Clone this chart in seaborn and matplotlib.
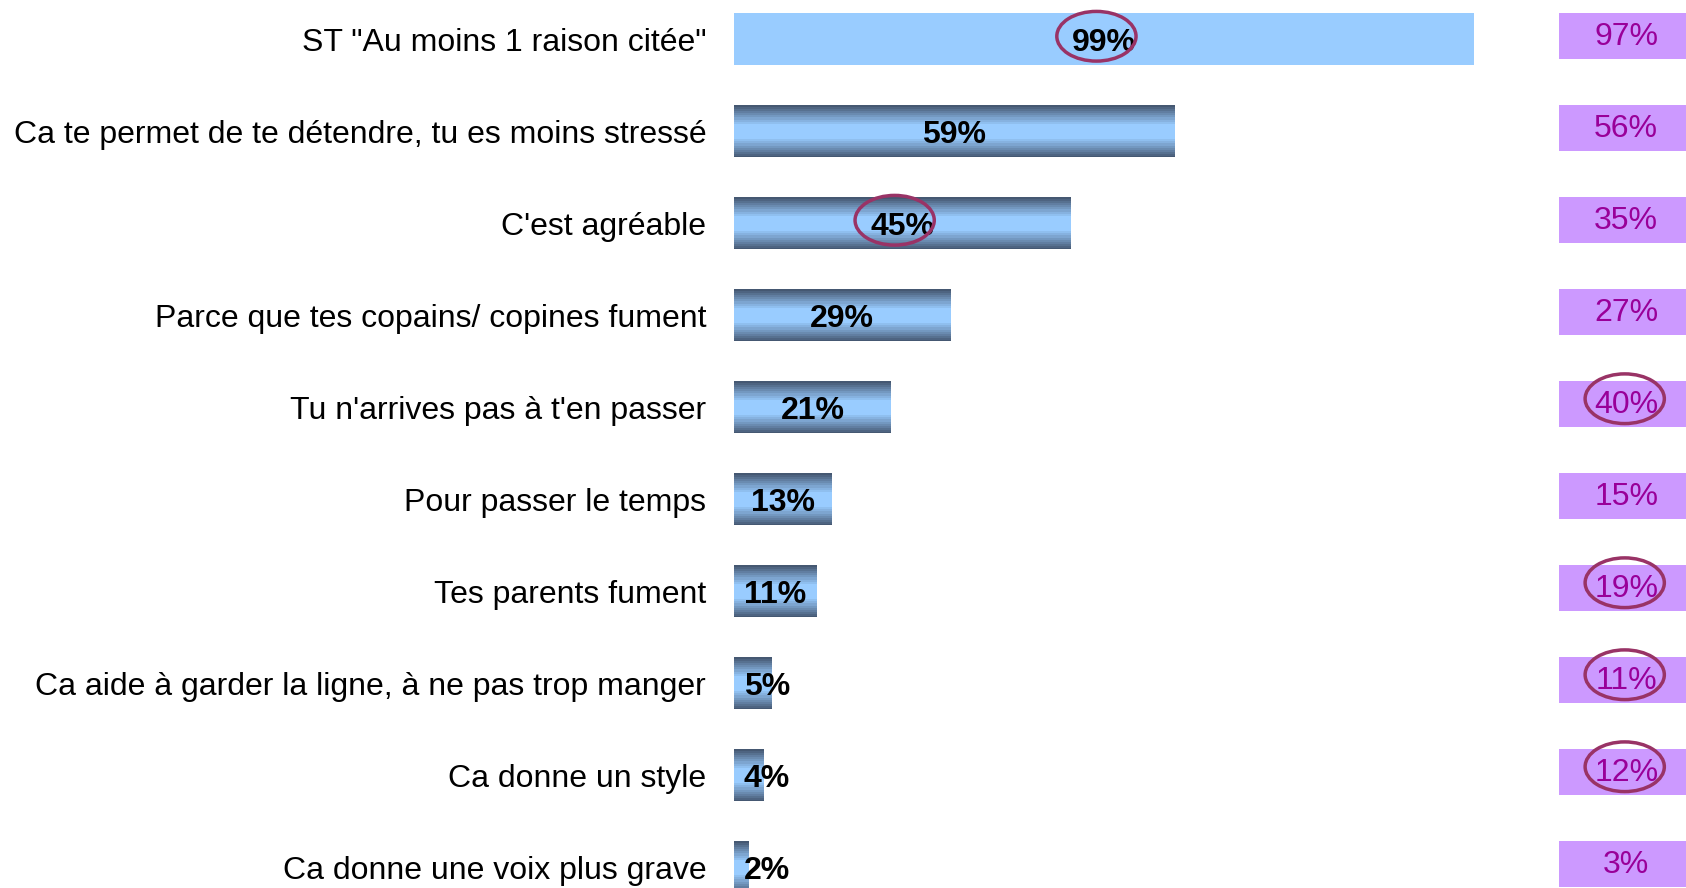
import numpy as np
import pandas as pd
import matplotlib
matplotlib.use("Agg")
import matplotlib.pyplot as plt
from matplotlib.patches import Ellipse, Rectangle
from matplotlib.colors import LinearSegmentedColormap
import seaborn as sns

# Reasons for smoking, share of respondents (%)
categories = [
    'ST "Au moins 1 raison citée"',
    "Ca te permet de te détendre, tu es moins stressé",
    "C'est agréable",
    "Parce que tes copains/ copines fument",
    "Tu n'arrives pas à t'en passer",
    "Pour passer le temps",
    "Tes parents fument",
    "Ca aide à garder la ligne, à ne pas trop manger",
    "Ca donne un style",
    "Ca donne une voix plus grave",
]
values = [99, 59, 45, 29, 21, 13, 11, 5, 4, 2]
compare_values = [97, 56, 35, 27, 40, 15, 19, 11, 12, 3]
circled_values = [0, 2]
circled_compare = [4, 6, 7, 8]

sns.set_theme(style="white")
plt.rcParams["font.family"] = ["Liberation Sans", "DejaVu Sans"]

W, H = 1686, 888
FS = 23.0
fig = plt.figure(figsize=(W / 100, H / 100), dpi=100)
left_px = 734
ax = fig.add_axes([left_px / W, 0, 1 - left_px / W, 1])

df = pd.DataFrame({"raison": categories, "pct": values})
sns.barplot(data=df, x="pct", y="raison", ax=ax, width=0.565,
            color="#99CCFF", saturation=1, edgecolor="none", linewidth=0)

# banded steel-blue gradient for all bars but the total
t = np.linspace(0, 1, 200)
dist = np.abs(t - 0.51)
f = np.clip(1 - (dist - 0.13) / 0.37, 0, 1)
f = np.round(f * 9) / 9
grad = f[:, None]
cmap = LinearSegmentedColormap.from_list("steel", ["#455872", "#99CCFF"])
for p in ax.patches[1:]:
    x0, y0 = p.get_x(), p.get_y()
    w, h = p.get_width(), p.get_height()
    im = ax.imshow(grad, extent=[x0, x0 + w, y0 + h, y0], origin="upper",
                   aspect="auto", cmap=cmap, vmin=0, vmax=1,
                   interpolation="nearest", zorder=p.get_zorder() + 0.1)
    im.set_clip_path(p)

ring = "#993366"
# value labels on the bars
for i, v in enumerate(values):
    x = max(v / 2, 4.4)
    ax.text(x, i + 0.045, f"{v}%", ha="center", va="center", fontsize=FS,
            fontweight="bold", color="black", zorder=5)
    if i in circled_values:
        ax.add_patch(Ellipse((x - 1.0, i - 0.03), 10.6, 0.54, fill=False,
                             edgecolor=ring, linewidth=2.5, zorder=6))

# comparison column
cx = 119.4
for i, v in enumerate(compare_values):
    ax.add_patch(Rectangle((110.4, i - 0.28), 30, 0.5, facecolor="#CC99FF",
                           edgecolor="none", zorder=3))
    ax.text(cx, i - 0.02, f"{v}%", ha="center", va="center", fontsize=FS,
            color="#990099", zorder=5)
    if i in circled_compare:
        ax.add_patch(Ellipse((cx - 0.2, i - 0.09), 10.6, 0.54, fill=False,
                             edgecolor=ring, linewidth=2.5, zorder=6))

ax.set_xlim(0, 127.4)
ax.set_ylim(9.228, -0.424)
ax.set_xlabel("")
ax.set_ylabel("")
ax.set_xticks([])
ax.tick_params(axis="y", length=0, pad=20, labelsize=FS, labelcolor="black")
for s in ax.spines.values():
    s.set_visible(False)
ax.patch.set_alpha(0)

fig.savefig("out.png", dpi=100)
